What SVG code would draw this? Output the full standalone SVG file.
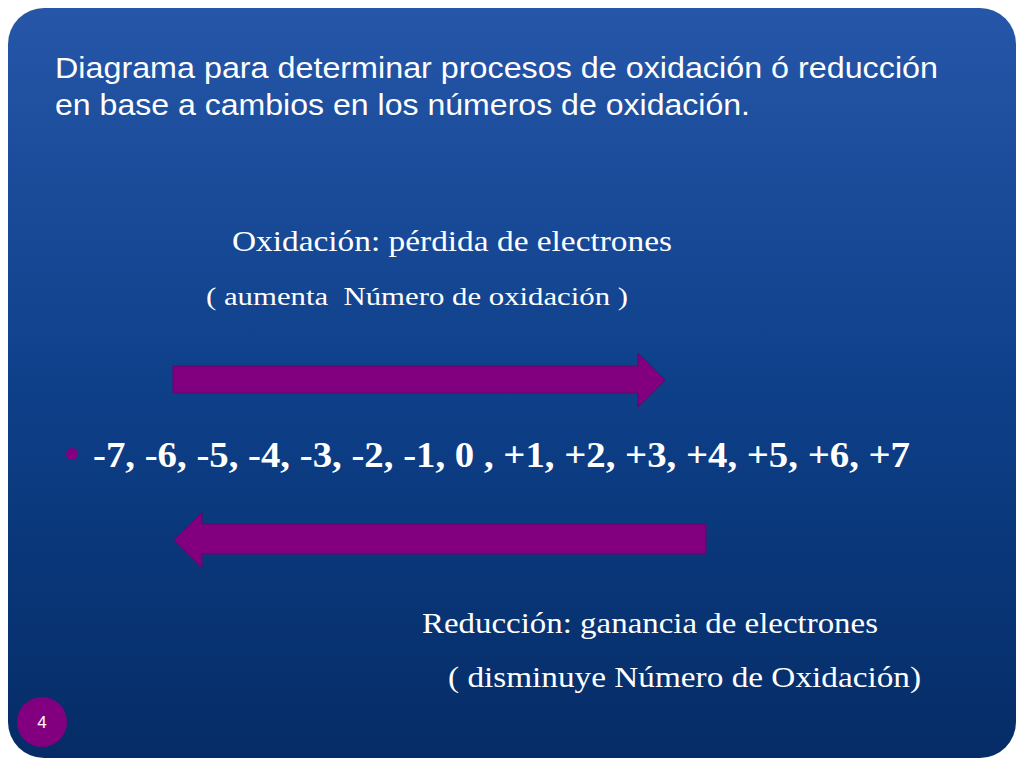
<svg xmlns="http://www.w3.org/2000/svg" width="1024" height="768" viewBox="0 0 1024 768">
<defs>
<linearGradient id="bg" x1="0" y1="0" x2="0" y2="1">
<stop offset="0" stop-color="#2656a8"/>
<stop offset="0.5" stop-color="#0e408a"/>
<stop offset="1" stop-color="#052c66"/>
</linearGradient>
<style>
.title{font-family:"Liberation Sans",Arial,sans-serif;font-size:30px;fill:#ffffff}
.serif{font-family:"Liberation Serif","Times New Roman",serif;fill:#ffffff}
.arrow{fill:#820080;stroke:#5a0a6a;stroke-width:1}
</style>
</defs>
<rect width="1024" height="768" fill="#ffffff"/>
<rect x="8" y="8" width="1008" height="750" rx="36" ry="36" fill="url(#bg)"/>
<g id="title">
<text class="title" x="55" y="78" textLength="883" lengthAdjust="spacingAndGlyphs">Diagrama para determinar procesos de oxidación ó reducción</text>
<text class="title" x="55" y="115" textLength="695" lengthAdjust="spacingAndGlyphs">en base a cambios en los números de oxidación.</text>
</g>
<g id="oxidacion">
<text class="serif" x="232" y="251" font-size="30" textLength="440" lengthAdjust="spacingAndGlyphs">Oxidación: pérdida de electrones</text>
<text class="serif" x="206" y="305" font-size="26" textLength="422" lengthAdjust="spacingAndGlyphs">( aumenta &#160;Número de oxidación )</text>
</g>
<g id="connectors">
<polygon id="arrow-right" class="arrow" points="173,366 638,366 638,353 665,380 638,407 638,393 173,393"/>
<polygon id="arrow-left" class="arrow" points="706,524 202,524 202,512 174,540 202,568 202,554 706,554"/>
</g>
<g id="numeros">
<circle cx="72" cy="454" r="6" fill="#820080"/>
<text class="serif" x="93" y="467" font-size="36" font-weight="bold" textLength="817" lengthAdjust="spacingAndGlyphs">-7, -6, -5, -4, -3, -2, -1, 0 , +1, +2, +3, +4, +5, +6, +7</text>
</g>
<g id="reduccion">
<text class="serif" x="422" y="633" font-size="30" textLength="456" lengthAdjust="spacingAndGlyphs">Reducción: ganancia de electrones</text>
<text class="serif" x="448" y="687" font-size="30" textLength="473" lengthAdjust="spacingAndGlyphs">( disminuye Número de Oxidación)</text>
</g>
<g id="pagina">
<circle cx="42" cy="722" r="25" fill="#820080"/>
<text x="42" y="728" font-family="Liberation Sans,Arial,sans-serif" font-size="17" fill="#ffffff" text-anchor="middle">4</text>
</g>
</svg>
